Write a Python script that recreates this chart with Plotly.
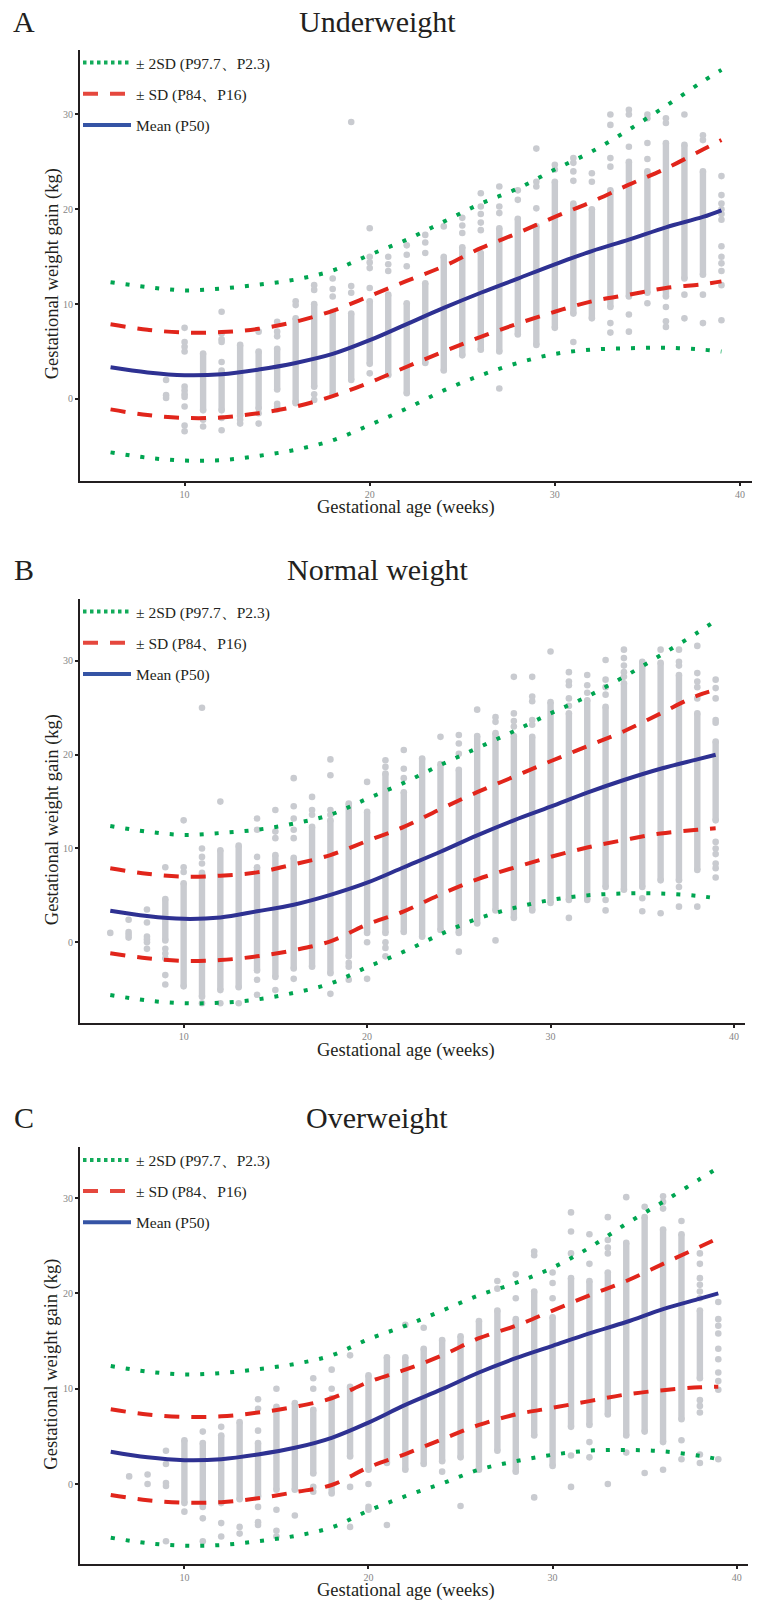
import plotly.graph_objects as go

# ---------------- data ----------------
weeks_curve = [6, 8, 10, 12, 14, 16, 18, 20, 22, 24, 26, 28, 30, 32, 34, 36, 38, 39]

# Underweight
uw_mean = [3.34, 2.8, 2.5, 2.6, 3.1, 3.8, 4.75, 6.2, 7.9, 9.6, 11.2, 12.7, 14.2, 15.6, 16.8, 18.1, 19.2, 19.9]
uw_sd_hi = [7.88, 7.3, 7.0, 7.05, 7.4, 8.15, 9.3, 10.85, 12.45, 14.0, 15.9, 17.5, 19.2, 20.8, 22.6, 24.3, 26.3, 27.3]
uw_sd_lo = [-1.1, -1.7, -2.0, -1.95, -1.5, -0.8, 0.3, 1.75, 3.4, 5.0, 6.55, 7.95, 9.2, 10.3, 11.0, 11.7, 12.1, 12.4]
uw_2sd_hi = [12.31, 11.8, 11.45, 11.65, 12.05, 12.6, 13.55, 15.2, 16.8, 18.7, 20.6, 22.2, 24.2, 26.1, 28.4, 30.9, 33.5, 34.7]
uw_2sd_lo = [-5.63, -6.2, -6.5, -6.45, -6.0, -5.35, -4.35, -2.74, -1.0, 0.9, 2.5, 3.8, 4.75, 5.2, 5.35, 5.4, 5.2, 5.0]

# Normal weight
nw_mean = [3.37, 2.8, 2.5, 2.65, 3.3, 4.0, 5.05, 6.35, 8.0, 9.65, 11.4, 13.0, 14.45, 15.95, 17.3, 18.5, 19.5, 20.0]
nw_sd_hi = [7.89, 7.3, 7.0, 7.1, 7.45, 8.3, 9.3, 10.8, 12.3, 14.2, 16.0, 17.65, 19.3, 20.9, 22.5, 24.4, 26.3, 26.9]
nw_sd_lo = [-1.17, -1.7, -2.0, -1.9, -1.5, -0.85, 0.1, 1.9, 3.3, 5.1, 6.7, 7.95, 9.1, 10.1, 10.9, 11.6, 12.0, 12.15]
nw_2sd_hi = [12.4, 11.8, 11.45, 11.65, 12.0, 12.65, 13.6, 15.3, 17.0, 18.9, 20.7, 22.5, 24.4, 26.2, 28.3, 30.6, 33.0, 34.3]
nw_2sd_lo = [-5.62, -6.2, -6.5, -6.45, -6.1, -5.4, -4.4, -2.65, -1.0, 0.85, 2.5, 3.65, 4.5, 5.0, 5.2, 5.2, 4.95, 4.7]

# Overweight
ow_mean = [3.39, 2.8, 2.5, 2.6, 3.1, 3.8, 4.85, 6.45, 8.3, 9.95, 11.7, 13.2, 14.5, 15.8, 17.0, 18.35, 19.45, 20.0]
ow_sd_hi = [7.84, 7.3, 7.05, 7.1, 7.5, 8.1, 9.0, 10.7, 12.0, 13.5, 15.3, 16.6, 18.2, 19.8, 21.3, 23.1, 24.9, 25.8]
ow_sd_lo = [-1.15, -1.7, -1.95, -1.9, -1.5, -0.85, -0.1, 1.75, 3.15, 4.7, 6.2, 7.3, 8.0, 8.7, 9.4, 9.85, 10.15, 10.2]
ow_2sd_hi = [12.38, 11.8, 11.5, 11.65, 12.05, 12.6, 13.5, 15.2, 16.6, 18.2, 19.8, 21.1, 22.7, 24.8, 27.3, 29.6, 32.0, 33.2]
ow_2sd_lo = [-5.63, -6.2, -6.47, -6.4, -6.0, -5.45, -4.55, -2.8, -1.28, 0.06, 1.5, 2.4, 3.07, 3.5, 3.58, 3.43, 2.96, 2.6]

# Observed gains: dense stacks per week (lowest..highest) and separate points
uw_col_weeks = [11, 12, 13, 14, 15, 16, 17, 18, 19, 20, 21, 22, 23, 24, 25, 26, 27, 28, 29, 30, 31, 32, 33, 34, 35, 36, 37, 38]
uw_col_hi = [4.8, 3.0, 5.7, 5.0, 5.3, 8.5, 10.0, 9.2, 9.0, 10.3, 11.0, 10.1, 12.2, 15.0, 16.0, 15.4, 18.0, 19.0, 18.2, 22.9, 20.6, 20.0, 22.0, 25.0, 24.0, 27.0, 26.8, 24.0]
uw_col_lo = [-1.2, -1.2, -1.8, -1.0, 1.0, -0.3, 1.3, 0.5, 2.0, 3.7, 2.5, 0.6, 3.8, 3.0, 4.6, 5.2, 5.0, 6.8, 5.7, 7.5, 9.0, 8.5, 9.7, 10.8, 11.2, 10.8, 12.7, 13.1]
uw_points = {
    9: [2.0, 0.4, 0.1],
    10: [7.5, 6.0, 5.5, 5.0, 1.3, 0.9, 0.5, 0.2, -0.8, -2.8, -3.4],
    11: [-2.2, -2.9],
    12: [9.2, 6.9, 6.3, 6.0, 3.9, -2.0, -3.3],
    13: [-2.2, -2.6],
    14: [7.1, -1.5, -2.6],
    15: [8.15, 7.1, 6.6, -0.5, -0.8, -1.1],
    16: [10.3, 9.9, -0.45],
    17: [12.0, 11.5, 0.5, -0.1],
    18: [12.7, 11.6, 10.8],
    19: [29.2, 11.9, 11.2],
    20: [18.0, 15.0, 14.4, 13.8, 11.7, 2.7],
    21: [15.0, 14.2, 13.5],
    22: [16.2, 15.2, 14.0],
    23: [17.3, 16.5, 15.4],
    24: [18.2],
    25: [19.1, 18.3, 17.5],
    26: [21.7, 20.3, 19.5, 18.6, 17.8],
    27: [22.4, 20.3, 19.6, 1.1],
    28: [22.0, 21.0],
    29: [26.4, 22.9, 22.4, 20.1],
    30: [24.7, 24.2],
    31: [25.4, 24.9, 24.0, 23.0, 6.0],
    32: [23.8, 22.9],
    33: [30.0, 28.9, 25.4, 24.5, 8.0, 7.0],
    34: [30.5, 30.0, 26.6, 8.9, 7.1],
    35: [30.0, 29.6, 27.0, 25.3, 10.1],
    36: [29.6, 29.1, 9.7, 8.2, 7.6],
    37: [30.0, 11.0, 8.5],
    38: [27.8, 27.3, 11.0, 8.0],
    39: [23.5, 21.5, 20.6, 20.0, 19.5, 18.9, 16.1, 15.0, 14.3, 13.5, 12.0, 8.3],
}

nw_col_weeks = [9, 10, 11, 12, 13, 14, 15, 16, 17, 18, 19, 20, 21, 22, 23, 24, 25, 26, 27, 28, 29, 30, 31, 32, 33, 34, 35, 36, 37, 38, 39]
nw_col_hi = [4.6, 6.3, 7.4, 9.8, 10.3, 8.0, 9.3, 9.0, 12.3, 13.0, 14.8, 13.9, 18.0, 16.0, 19.6, 19.0, 18.4, 22.0, 22.3, 22.0, 21.9, 25.6, 24.4, 25.8, 25.1, 27.6, 29.9, 29.8, 28.5, 24.4, 21.4]
nw_col_lo = [0.2, -4.7, -5.8, -5.1, -4.8, -3.0, -3.7, -2.8, -2.6, -3.3, -1.5, 1.0, 1.0, 1.1, 0.6, 1.3, 1.0, 2.0, 3.4, 2.6, 3.4, 4.2, 4.5, 4.5, 5.9, 5.6, 5.9, 6.6, 6.6, 7.7, 13.0]
nw_points = {
    6: [1.0],
    7: [2.4, 1.1, 0.8, 0.5],
    8: [3.5, 2.1, 0.6, 0.3, 0.0, -0.7],
    9: [8.0, -0.7, -1.2, -1.7, -3.5, -4.5],
    10: [13.0, 8.0, 7.5],
    11: [25.0, 10.0, 9.1, 8.4, -6.5],
    12: [15.0, -6.5],
    13: [-6.5],
    14: [13.2, 12.0, 9.1, -4.0, -5.6],
    15: [14.1, 11.8, 11.1, -5.1],
    16: [17.5, 14.5, 13.2, 12.0, 11.1, -3.9],
    17: [15.5, 14.1, 13.6],
    18: [19.5, 17.8, 14.1, 13.6, -5.5],
    19: [-2.2, -2.6, -4.0],
    20: [17.1, 0.0, -3.9],
    21: [19.4, 18.7, 0.0, -0.6, -1.5],
    22: [20.5, 18.5, 17.5],
    24: [21.9],
    25: [22.1, 21.2, 20.1, -1.0],
    26: [24.8],
    27: [24.0, 23.5, 0.2],
    28: [28.3, 24.4, 23.6, 23.0],
    29: [28.3, 26.2, 25.7, 23.7, 23.2],
    30: [31.0],
    31: [28.8, 27.8, 27.4, 26.0, 25.2, 2.6],
    32: [28.5, 27.4, 26.6],
    33: [30.1, 28.0, 27.2, 26.4, 4.5, 3.4],
    34: [31.2, 30.3, 29.5, 28.8, 28.3],
    35: [4.7, 3.3],
    36: [31.2, 3.1],
    37: [31.2, 29.9, 29.5, 5.9, 3.8],
    38: [31.6, 28.7, 27.8, 27.2, 26.0, 3.8],
    39: [28.0, 27.1, 26.0, 23.7, 23.4, 10.7, 10.0, 9.4, 8.4, 7.9, 6.9],
}

ow_col_weeks = [10, 11, 12, 13, 14, 15, 16, 17, 18, 19, 20, 21, 22, 23, 24, 25, 26, 27, 28, 29, 30, 31, 32, 33, 34, 35, 36, 37, 38]
ow_col_hi = [4.6, 4.3, 5.1, 6.5, 4.3, 8.1, 8.5, 7.8, 9.0, 10.2, 11.4, 13.3, 13.3, 14.2, 15.1, 15.5, 17.1, 18.2, 17.3, 20.2, 17.5, 21.6, 21.3, 22.2, 25.3, 28.0, 26.7, 26.2, 18.2]
ow_col_lo = [-2.0, -2.4, -2.0, -1.6, -1.3, -0.6, -0.6, 1.1, -1.0, 2.9, 1.5, 2.2, 1.5, 2.1, 2.4, 2.8, 1.5, 3.5, 1.3, 5.1, 1.9, 6.0, 6.2, 7.3, 5.1, 5.5, 4.4, 6.8, 11.1]
ow_points = {
    7: [0.8],
    8: [1.0, 0.0],
    9: [3.5, 2.1, 0.1, -0.2, -6.0],
    10: [-2.9],
    11: [5.5, -3.6, -6.0],
    12: [6.0, -4.1, -5.5],
    13: [-4.5, -5.2],
    14: [8.9, 7.9, 5.6, -2.4, -4.0, -4.3],
    15: [10.0, -2.7, -4.9, -5.5],
    16: [-3.3],
    17: [11.1, 10.0, -0.3, -0.8],
    18: [12.0, 10.0],
    19: [13.5, -0.3, -4.5],
    20: [0.0, -2.4, -2.7],
    21: [-4.3],
    22: [16.7],
    23: [16.4],
    24: [1.3],
    25: [-2.3],
    27: [21.3, 20.5],
    28: [22.0, 19.5],
    29: [24.4, 24.0, -1.4],
    30: [22.2, 21.1, 19.5],
    31: [28.5, 26.5, 24.2, 3.0, -0.3],
    32: [26.2, 23.1, 4.4, 2.8],
    33: [28.0, 25.6, 24.8, 24.2, 0.0],
    34: [30.1, 3.3],
    35: [29.1, 1.15],
    36: [30.2, 29.6, 28.9, 1.5],
    37: [27.6, 4.6, 2.6],
    38: [24.2, 23.1, 21.6, 20.9, 20.2, 19.5, 8.8, 8.2, 7.5, 3.1, 2.2],
    39: [19.1, 17.3, 16.6, 15.8, 14.2, 13.1, 11.7, 10.8, 9.9, 2.6],
}

panel_titles = ["Underweight", "Normal weight", "Overweight"]
panel_letters = ["A", "B", "C"]
legend_names = ["± 2SD (P97.7、P2.3)", "± SD (P84、P16)", "Mean (P50)"]
x_ticks = [10, 20, 30, 40]
y_ticks = [0, 10, 20, 30]

# ---------------- style / layout ----------------
W, H = 757, 1603
FONT = "Liberation Serif, 'Times New Roman', Times, serif"
INK = "#231F20"
GRAY = "#C9CBD0"
GREEN, RED, BLUE = "#00A551", "#E1251B", "#2E3192"
LEG_GREEN, LEG_RED, LEG_BLUE = "#12AB5A", "#E5473D", "#3554A5"

# pixel boxes of each panel: left, right, top, bottom
boxes = [(80, 752, 50, 480.7), (80, 745, 599, 1023.3), (80, 748.3, 1147.3, 1564)]
x_ranges = [[4.35, 40.65], [4.35, 40.6], [4.33, 40.63]]
y_ranges = [[-8.62, 36.8], [-8.64, 36.6], [-8.39, 35.33]]
title_y = [22, 569.5, 1117.5]
xlab_y = [507.5, 1050, 1590.5]

panels = [
    dict(mean=uw_mean, sd_hi=uw_sd_hi, sd_lo=uw_sd_lo, sd2_hi=uw_2sd_hi, sd2_lo=uw_2sd_lo,
         cw=uw_col_weeks, chi=uw_col_hi, clo=uw_col_lo, pts=uw_points),
    dict(mean=nw_mean, sd_hi=nw_sd_hi, sd_lo=nw_sd_lo, sd2_hi=nw_2sd_hi, sd2_lo=nw_2sd_lo,
         cw=nw_col_weeks, chi=nw_col_hi, clo=nw_col_lo, pts=nw_points),
    dict(mean=ow_mean, sd_hi=ow_sd_hi, sd_lo=ow_sd_lo, sd2_hi=ow_2sd_hi, sd2_lo=ow_2sd_lo,
         cw=ow_col_weeks, chi=ow_col_hi, clo=ow_col_lo, pts=ow_points),
]


def px_x(p):
    return p / W


def px_y(p):
    return 1 - p / H


fig = go.Figure()
layout = dict(width=W, height=H, margin=dict(l=0, r=0, t=0, b=0),
              paper_bgcolor="white", plot_bgcolor="white", showlegend=True)
annotations = []

for i, p in enumerate(panels):
    sfx = "" if i == 0 else str(i + 1)
    xa, ya = "x" + sfx, "y" + sfx
    leg = "legend" + sfx

    # columns of points
    xs, ys = [], []
    for w, lo, hi in zip(p["cw"], p["clo"], p["chi"]):
        xs += [w, w, None]
        ys += [lo, hi, None]
    fig.add_trace(go.Scatter(x=xs, y=ys, mode="lines+markers", xaxis=xa, yaxis=ya,
                             line=dict(color=GRAY, width=6.4),
                             marker=dict(color=GRAY, size=6.6),
                             showlegend=False, hoverinfo="skip"))
    px_, py_ = [], []
    for w, vals in p["pts"].items():
        px_ += [w] * len(vals)
        py_ += vals
    fig.add_trace(go.Scatter(x=px_, y=py_, mode="markers", xaxis=xa, yaxis=ya,
                             marker=dict(color=GRAY, size=6.6),
                             showlegend=False, hoverinfo="skip"))

    # curves
    wc = weeks_curve
    fig.add_trace(go.Scatter(x=wc + [None] + wc, y=p["sd2_hi"] + [None] + p["sd2_lo"],
                             mode="lines", xaxis=xa, yaxis=ya,
                             line=dict(color=GREEN, width=4, dash="4px,11px", shape="spline"),
                             showlegend=False, hoverinfo="skip"))
    fig.add_trace(go.Scatter(x=wc + [None] + wc, y=p["sd_hi"] + [None] + p["sd_lo"],
                             mode="lines", xaxis=xa, yaxis=ya,
                             line=dict(color=RED, width=4, dash="15px,12px", shape="spline"),
                             showlegend=False, hoverinfo="skip"))
    fig.add_trace(go.Scatter(x=wc, y=p["mean"], mode="lines", xaxis=xa, yaxis=ya,
                             line=dict(color=BLUE, width=4, shape="spline"),
                             showlegend=False, hoverinfo="skip"))

    # legend entries
    styles = [(LEG_GREEN, "3.5px,3.5px"), (LEG_RED, "15px,12px"), (LEG_BLUE, "solid")]
    for k, (nm, (col, dash)) in enumerate(zip(legend_names, styles)):
        fig.add_trace(go.Scatter(x=[None], y=[None], mode="lines", name=nm,
                                 xaxis=xa, yaxis=ya, legend=leg, legendgroup=f"{leg}_{k}",
                                 line=dict(color=col, width=4, dash=dash)))

    l, r, t, b = boxes[i]
    axis_common = dict(showline=True, linecolor=INK, linewidth=2, ticks="outside",
                       ticklen=3, tickwidth=1.5, tickcolor=INK, showgrid=False, zeroline=False,
                       tickfont=dict(family=FONT, size=10, color="#858585"))
    layout["xaxis" + sfx] = dict(axis_common, domain=[px_x(l), px_x(r)], range=x_ranges[i],
                                 tickvals=x_ticks, anchor=ya)
    layout["yaxis" + sfx] = dict(axis_common, domain=[px_y(b), px_y(t)], range=y_ranges[i],
                                 tickvals=y_ticks, anchor=xa)
    layout[leg] = dict(x=px_x(78), y=px_y(t - 4), xanchor="left", yanchor="top",
                       bgcolor="rgba(0,0,0,0)", tracegroupgap=8, itemwidth=48,
                       font=dict(family=FONT, size=15.5, color=INK))

    annotations += [
        dict(text=panel_letters[i], x=px_x(23.5), y=px_y(title_y[i]), xref="paper", yref="paper",
             showarrow=False, xanchor="center", yanchor="middle",
             font=dict(family=FONT, size=30, color=INK)),
        dict(text=panel_titles[i], x=px_x(377), y=px_y(title_y[i]), xref="paper", yref="paper",
             showarrow=False, xanchor="center", yanchor="middle",
             font=dict(family=FONT, size=30, color=INK)),
        dict(text="Gestational weight gain (kg)", x=px_x(52), y=px_y((t + b) / 2 + 9),
             xref="paper", yref="paper", showarrow=False, textangle=-90,
             xanchor="center", yanchor="middle", font=dict(family=FONT, size=18.5, color=INK)),
        dict(text="Gestational age (weeks)", x=px_x(406), y=px_y(xlab_y[i]),
             xref="paper", yref="paper", showarrow=False,
             xanchor="center", yanchor="middle", font=dict(family=FONT, size=18.5, color=INK)),
    ]

layout["annotations"] = annotations
fig.update_layout(**layout)
fig.write_html("out.html", config={"displayModeBar": False},
               post_script="document.body.style.margin='0px';")
